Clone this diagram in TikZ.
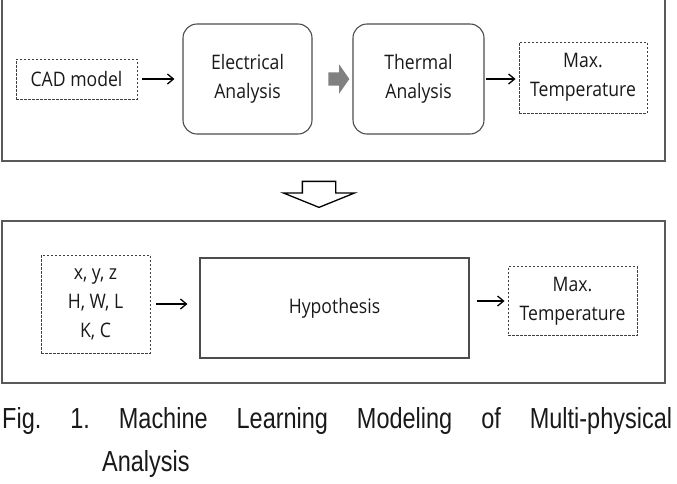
\documentclass[tikz,border=0pt]{standalone}
\usepackage{fontspec}
\setmainfont{Open Sans}[FakeStretch=0.88]
\newfontfamily\capfont{Liberation Sans}[FakeStretch=0.81]
\usetikzlibrary{positioning, arrows.meta, shapes.arrows, calc}

\tikzset{
  frame/.style={draw=black!65, line width=1.4pt, inner sep=0pt},
  dashbox/.style={draw=black!75, dash pattern=on 2.5pt off 1.5pt, line width=0.9pt, align=center, inner sep=0pt},
  procbox/.style={draw=black!70, line width=1.1pt, rounded corners=14pt, align=center, inner sep=0pt},
  hypbox/.style={draw=black!70, line width=1.1pt, align=center, inner sep=0pt},
  flow/.style={-{Straight Barb[length=6pt,width=10pt]}, line width=1.3pt},
}

\begin{document}
\begin{tikzpicture}[x=1pt, y=-1pt, font=\fontsize{20}{29}\selectfont, text=black!90]
    \useasboundingbox (0,0) rectangle (677,483);
    % Marcos
    \node[frame, minimum width=663pt, minimum height=166pt] (upper) at (333.5,78) {};
    \node[frame, minimum width=663pt, minimum height=162pt] (lower) at (333.5,302) {};
    % Fila superior
    \node[dashbox, minimum width=121pt, minimum height=40pt] (cad) at (76.5,79) {CAD model};
    \node[procbox, minimum width=129pt, minimum height=110pt] (elec) at (247.5,79) {Electrical\\Analysis};
    \node[procbox, minimum width=131pt, minimum height=110pt] (therm) at (418.5,79) {Thermal\\Analysis};
    \node[dashbox, minimum width=128pt, minimum height=71pt] (tmax) at (583,77.5) {Max.\\Temperature};
    % Flechas superiores
    \draw[flow, shorten <=5pt, shorten >=8pt] (cad.east) -- (cad.east -| elec.west);
    \node[single arrow, fill=black!50, minimum height=21pt, minimum width=29pt,
          single arrow head extend=8pt, single arrow tip angle=110,
          inner xsep=0pt, inner ysep=6.5pt]
          (relay) at ($(elec.east)!0.5!(therm.west)+(4,0)$) {};
    \draw[flow, shorten <=1pt, shorten >=3pt] (therm.east) -- (therm.east -| tmax.west);
    % Flecha hueca
    \node[single arrow, draw=black, fill=white, line width=1.3pt, shape border rotate=270,
          minimum height=26pt, minimum width=70pt, single arrow head extend=19pt,
          single arrow tip angle=136, inner xsep=16pt, inner ysep=0pt]
          (hollow) at ($(upper.south)!0.5!(lower.north)+(-14.5,0)$) {};
    % Fila inferior
    \node[dashbox, minimum width=109pt, minimum height=98pt] (inputs) at (95.5,304) {x, y, z\\H, W, L\\K, C};
    \node[hypbox, minimum width=269pt, minimum height=100pt] (hyp) at (334.5,308) {Hypothesis};
    \node[dashbox, minimum width=129pt, minimum height=69pt] (tmaxb) at (572.5,301) {Max.\\Temperature};
    \draw[flow, shorten <=6pt, shorten >=12pt] (inputs.east) -- (inputs.east -| hyp.west);
    \draw[flow, shorten <=7pt, shorten >=3pt] (tmaxb.west -| hyp.east) -- (tmaxb.west);
    % Leyenda
    \node[anchor=north west, inner sep=0pt, text width=670pt, align=justify,
          font=\capfont\fontsize{29}{43}\selectfont] (caption) at (2,407)
          {\frenchspacing\tolerance=10000\hbadness=10000
           Fig. 1. Machine Learning Modeling of Multi-physical\linebreak\hspace*{100pt}Analysis};
\end{tikzpicture}
\end{document}
